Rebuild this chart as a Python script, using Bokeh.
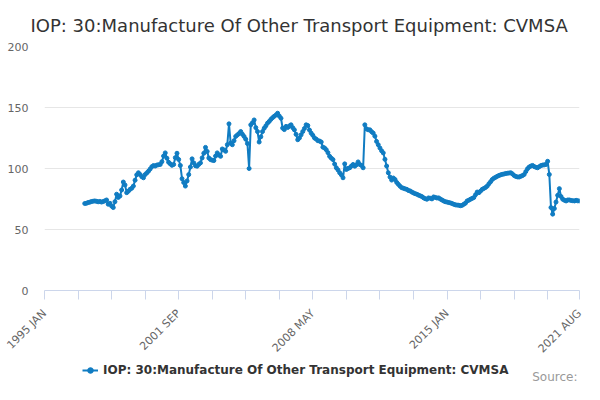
from bokeh.plotting import figure
from bokeh.models import (Range1d, FixedTicker, Legend, LegendItem, Label, ColumnDataSource)
from bokeh.layouts import column
from bokeh.embed import file_html
from bokeh.resources import INLINE
import math

TITLE = "IOP: 30:Manufacture Of Other Transport Equipment: CVMSA"
SERIES = "IOP: 30:Manufacture Of Other Transport Equipment: CVMSA"
SOURCE = "Source:"
MONTHS = ["JAN", "FEB", "MAR", "APR", "MAY", "JUN", "JUL", "AUG", "SEP", "OCT", "NOV", "DEC"]
FIRST_YEAR = 1995
LAST_LABEL = "2021 AUG"
DATA_START = "1997 JAN"
TICK_LABELS = ["1995 JAN", "2001 SEP", "2008 MAY", "2015 JAN", "2021 AUG"]
Y_TICKS = [0, 50, 100, 150, 200]

v1997 = [71.3, 71.5, 72.1, 72.4, 72.9, 73.2, 73.4, 73.1, 72.7, 73.0, 72.5, 72.9]
v1998 = [73.5, 74.2, 70.7, 71.5, 69.2, 68.0, 72.8, 78.9, 76.3, 77.5, 82.4, 88.9]
v1999 = [86.5, 80.2, 81.4, 82.9, 83.8, 85.6, 90.4, 94.8, 96.5, 95.1, 93.3, 92.4]
v2000 = [95.0, 96.4, 97.8, 99.6, 101.5, 102.4, 102.0, 102.8, 103.1, 103.3, 105.6, 110.2]
v2001 = [112.8, 108.4, 105.1, 103.8, 102.6, 103.3, 108.9, 112.5, 107.4, 102.5, 91.6, 88.5]
v2002 = [85.6, 89.8, 95.0, 101.2, 107.9, 104.6, 102.3, 101.9, 103.4, 104.6, 108.7, 112.5]
v2003 = [117.3, 114.0, 108.6, 107.3, 106.8, 106.5, 110.2, 112.8, 111.1, 110.0, 116.0, 115.2]
v2004 = [114.1, 119.5, 136.6, 120.9, 119.5, 122.8, 126.3, 127.5, 128.7, 130.3, 128.1, 126.3]
v2005 = [124.0, 120.5, 100.0, 135.8, 137.5, 139.8, 133.5, 130.3, 121.7, 126.0, 130.3, 133.0]
v2006 = [135.0, 137.2, 138.6, 140.3, 141.7, 142.8, 143.9, 145.3, 143.0, 141.2, 133.1, 131.9]
v2007 = [134.5, 133.6, 134.9, 135.8, 133.5, 131.7, 128.0, 123.6, 125.0, 127.6, 130.3, 132.8]
v2008 = [135.8, 135.2, 131.5, 129.0, 127.2, 125.0, 124.1, 122.8, 122.5, 121.7, 117.5, 116.8]
v2009 = [115.4, 113.0, 110.0, 108.5, 107.3, 103.6, 100.6, 98.8, 96.5, 94.8, 92.4, 103.8]
v2010 = [99.2, 100.1, 100.6, 102.0, 103.3, 101.9, 103.1, 105.4, 103.3, 102.5, 100.6, 135.8]
v2011 = [132.5, 131.7, 131.7, 130.2, 129.0, 126.5, 122.2, 119.5, 116.8, 114.5, 112.8, 107.5]
v2012 = [102.0, 96.5, 93.0, 90.5, 92.2, 91.0, 88.6, 87.0, 85.5, 84.3, 83.8, 83.3]
v2013 = [82.9, 82.0, 81.6, 80.7, 80.0, 79.4, 78.9, 78.2, 77.6, 77.0, 76.0, 75.3]
v2014 = [74.8, 75.9, 75.6, 75.1, 76.7, 76.3, 75.8, 75.9, 75.0, 74.2, 73.4, 72.8]
v2015 = [72.5, 72.1, 71.8, 71.3, 70.7, 70.2, 70.0, 69.9, 69.5, 69.8, 70.7, 71.6]
v2016 = [73.4, 74.0, 74.8, 75.5, 76.2, 78.5, 80.7, 80.2, 81.5, 82.9, 83.7, 84.5]
v2017 = [85.6, 87.5, 89.2, 91.0, 92.1, 92.8, 93.6, 94.3, 94.8, 95.2, 95.5, 95.9]
v2018 = [96.1, 96.3, 96.5, 95.6, 94.3, 93.5, 93.1, 93.0, 93.6, 94.2, 95.1, 97.5]
v2019 = [99.8, 101.2, 102.0, 102.5, 101.6, 101.0, 100.6, 101.5, 102.4, 102.8, 103.0, 103.3]
v2020 = [105.9, 95.1, 68.0, 62.6, 67.2, 72.5, 78.0, 83.5, 77.0, 74.8, 74.0, 73.4]
v2021 = [74.2, 74.2, 73.8, 73.6, 73.4, 73.9, 73.5, 73.4]

# category list (monthly) from 1995 JAN to 2021 AUG
categories = []
y = FIRST_YEAR
while True:
    done = False
    for mname in MONTHS:
        lab = f"{y} {mname}"
        categories.append(lab)
        if lab == LAST_LABEL:
            done = True
            break
    if done:
        break
    y += 1

values = (v1997 + v1998 + v1999 + v2000 + v2001 + v2002 + v2003 + v2004 + v2005 +
          v2006 + v2007 + v2008 + v2009 + v2010 + v2011 + v2012 + v2013 + v2014 +
          v2015 + v2016 + v2017 + v2018 + v2019 + v2020 + v2021)
start = categories.index(DATA_START)
xs = list(range(start, start + len(values)))
src = ColumnDataSource(dict(x=xs, y=values, cat=categories[start:start + len(values)]))

FONT = "DejaVu Sans"
BLUE = "#107cc2"
W = 584

p = figure(width=W, height=363, output_backend="svg", toolbar_location=None,
           x_range=Range1d(0, len(categories) - 1), y_range=Range1d(0, 200),
           min_border_left=44, min_border_right=5, min_border_top=46, min_border_bottom=73)
p.outline_line_color = None
p.background_fill_color = "white"
p.border_fill_color = "white"

p.title.text = TITLE
p.title.align = "left"
p.title.offset = -14
p.title.text_font = FONT
p.title.text_font_size = "18px"
p.title.text_font_style = "normal"
p.title.text_color = "#333333"
p.title.standoff = 22

# x axis ticks
n = len(categories) - 1
tick_pos = list(range(0, n, 20)) + [n]
p.xaxis.ticker = FixedTicker(ticks=tick_pos, minor_ticks=[])
overrides = {}
for t in tick_pos:
    overrides[t] = categories[t] if categories[t] in TICK_LABELS else ""
p.xaxis.major_label_overrides = overrides
p.xaxis.major_label_orientation = math.pi / 4
p.xaxis.major_label_text_font = FONT
p.xaxis.major_label_text_font_size = "11px"
p.xaxis.major_label_text_color = "#666666"
p.xaxis.axis_line_color = "#ccd6eb"
p.xaxis.major_tick_line_color = "#ccd6eb"
p.xaxis.major_tick_out = 9
p.xaxis.major_tick_in = 0
p.xaxis.minor_tick_line_color = None
p.xaxis.major_label_standoff = 12
p.xgrid.grid_line_color = None

p.yaxis.ticker = FixedTicker(ticks=Y_TICKS, minor_ticks=[])
p.yaxis.axis_line_color = None
p.yaxis.major_tick_line_color = None
p.yaxis.minor_tick_line_color = None
p.yaxis.major_tick_out = 0
p.yaxis.major_label_standoff = 16
p.yaxis.major_label_text_font = FONT
p.yaxis.major_label_text_font_size = "11px"
p.yaxis.major_label_text_color = "#666666"
p.ygrid.ticker = FixedTicker(ticks=Y_TICKS)
p.ygrid.grid_line_color = "#e6e6e6"

p.line("x", "y", source=src, line_color=BLUE, line_width=2)
p.scatter("x", "y", source=src, size=4, fill_color=BLUE, line_color=BLUE)

# bottom strip: legend and credits (series drawn outside its visible range,
# only so that the legend can show its symbol)
p2 = figure(width=W, height=21, output_backend="svg", toolbar_location=None,
            x_axis_location=None, y_axis_location=None,
            x_range=Range1d(-2, -1), y_range=Range1d(-2, -1),
            min_border=0, min_border_left=0, min_border_right=0,
            min_border_top=0, min_border_bottom=0)
p2.outline_line_color = None
p2.grid.grid_line_color = None
p2.background_fill_color = "white"
p2.border_fill_color = "white"
lr = p2.line("x", "y", source=src, line_color=BLUE, line_width=2)
sr = p2.scatter("x", "y", source=src, size=4, fill_color=BLUE, line_color=BLUE)

legend = Legend(items=[LegendItem(label=SERIES, renderers=[lr, sr])],
                location=(38, 7), orientation="horizontal",
                background_fill_alpha=0, border_line_alpha=0,
                label_text_font=FONT, label_text_font_size="12px",
                label_text_font_style="bold", label_text_color="#333333",
                glyph_width=16, glyph_height=14, label_standoff=5,
                padding=0, margin=0, spacing=0, label_height=14)
p2.add_layout(legend)

src_label = Label(x=533, y=8, x_units="screen", y_units="screen", text=SOURCE,
                  text_align="right", text_baseline="middle",
                  text_font=FONT, text_font_size="12px", text_color="#999999")
p2.add_layout(src_label)

layout = column(p, p2, spacing=0)
open("out.html", "w").write(file_html(layout, INLINE))
